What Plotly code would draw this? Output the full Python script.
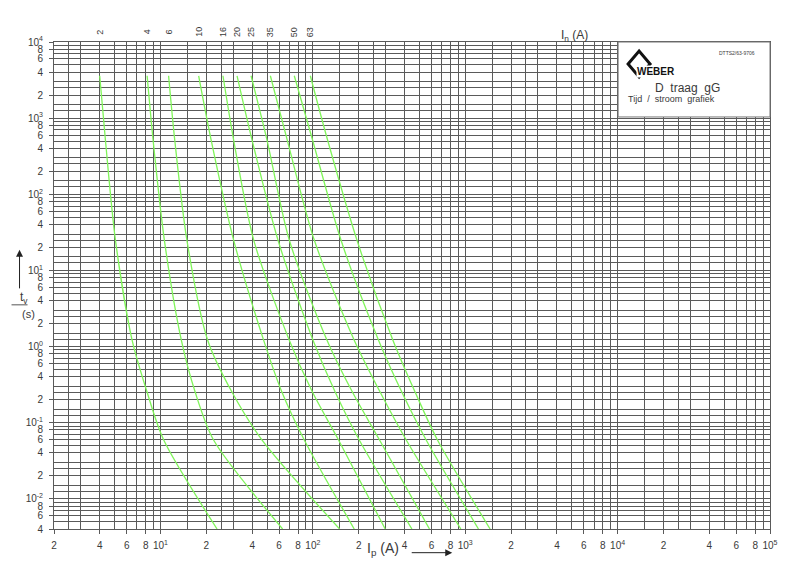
import math
import plotly.graph_objects as go

# ---------------- data ----------------
ratings = ["2", "4", "6", "10", "16", "20", "25", "35", "50", "63"]
t_points = [3600, 515, 25, 1.21, 0.25, 0.059, 0.004]  # seconds

i_2A = [3.99, 4.35, 5.06, 6.51, 8.17, 10.5, 23.5]
i_4A = [8.17, 8.94, 10.6, 13.7, 16.9, 22.3, 63.3]
i_6A = [11.3, 12.4, 14.9, 20.4, 29.5, 46.4, 149.7]
i_10A = [17.8, 21.5, 30.2, 47.5, 62.7, 87.8, 186.8]
i_16A = [25.7, 30.2, 40.9, 70.0, 99.5, 147.4, 298.4]
i_20A = [31.8, 39.9, 59.0, 100.2, 140.3, 201.5, 446.6]
i_25A = [39.3, 50.0, 70.0, 123.8, 182.1, 273.8, 582.5]
i_35A = [52.6, 67.9, 102.1, 186.8, 276.7, 409.8, 935.9]
i_50A = [75.5, 99.5, 152.9, 269.7, 384.0, 554.0, 1221.0]
i_63A = [96.2, 124.9, 194.6, 335.2, 469.4, 657.3, 1456.0]
currents = [i_2A, i_4A, i_6A, i_10A, i_16A, i_20A, i_25A, i_35A, i_50A, i_63A]

# axis tick values / labels
x_major_vals = [2, 4, 6, 8,
                10, 20, 40, 60, 80,
                100, 200, 400, 600, 800,
                1000, 2000, 4000, 6000, 8000,
                10000, 20000, 40000, 60000, 80000,
                100000]
x_major_text = ["2", "4", "6", "8",
                "10<sup>1</sup>", "2", "4", "6", "8",
                "10<sup>2</sup>", "2", "4", "6", "8",
                "10<sup>3</sup>", "2", "4", "6", "8",
                "10<sup>4</sup>", "2", "4", "6", "8",
                "10<sup>5</sup>"]
x_minor_mant = [1.5, 2.5, 3, 5, 7, 9]

y_major_vals = [0.004, 0.006, 0.008,
                0.01, 0.02, 0.04, 0.06, 0.08,
                0.1, 0.2, 0.4, 0.6, 0.8,
                1, 2, 4, 6, 8,
                10, 20, 40, 60, 80,
                100, 200, 400, 600, 800,
                1000, 2000, 4000, 6000, 8000,
                10000]
y_major_text = ["4", "6", "8",
                "10<sup>-2</sup>", "2", "4", "6", "8",
                "10<sup>-1</sup>", "2", "4", "6", "8",
                "10<sup>0</sup>", "2", "4", "6", "8",
                "10<sup>1</sup>", "2", "4", "6", "8",
                "10<sup>2</sup>", "2", "4", "6", "8",
                "10<sup>3</sup>", "2", "4", "6", "8",
                "10<sup>4</sup>"]
y_minor_mant = [1.25, 1.5, 2.5, 3, 5, 7, 9]

# ---------------- figure ----------------
OFF = 8  # page body margin
W, H = 784, 558
L, R, T, B = 45.5, 22, 34, 36.7
PW, PH = W - L - R, H - T - B


def px(xp):
    """page pixel x -> paper"""
    return (xp - OFF - L) / PW


def py(yp):
    """page pixel y -> paper"""
    return (OFF + H - B - yp) / PH


x_minor_vals = [m * 10 ** d for d in range(0, 5) for m in x_minor_mant if 2 < m * 10 ** d < 100000]
y_minor_vals = [m * 10 ** d for d in range(-3, 4) for m in y_minor_mant if 0.004 < m * 10 ** d < 10000]

GREEN = "#80f55a"
GRID = "#5a5a5a"
TXT = "#3a3a3a"
FONT = "Liberation Sans"

fig = go.Figure()
for name, cur in zip(ratings, currents):
    fig.add_trace(go.Scatter(x=cur, y=t_points, mode="lines", name=name + " A",
                             line=dict(color=GREEN, width=1.3, shape="spline", smoothing=0.8),
                             showlegend=False, hoverinfo="skip"))

axis_common = dict(type="log", showgrid=True, gridcolor=GRID, gridwidth=1,
                   zeroline=False, showline=True, linecolor=GRID, linewidth=1, mirror=True,
                   ticks="outside", ticklen=4, tickcolor=GRID,
                   tickfont=dict(family=FONT, size=10, color=TXT))

fig.update_xaxes(range=[0.30103, 5], tickmode="array", tickvals=x_major_vals, ticktext=x_major_text,
                 minor=dict(tickmode="array", tickvals=x_minor_vals, showgrid=True,
                            gridcolor=GRID, gridwidth=1, ticks=""),
                 ticklabelstandoff=3,
                 **axis_common)
fig.update_yaxes(range=[-2.39794, 4], tickmode="array", tickvals=y_major_vals, ticktext=y_major_text,
                 minor=dict(tickmode="array", tickvals=y_minor_vals, showgrid=True,
                            gridcolor=GRID, gridwidth=1, ticks=""),
                 ticklabelstandoff=4,
                 **axis_common)

annotations = []
# rating labels on top (rotated)
for name, cur in zip(ratings, currents):
    annotations.append(dict(x=math.log10(cur[0]), xref="x", y=py(32), yref="paper", text=name,
                            showarrow=False, textangle=-90,
                            font=dict(family=FONT, size=9, color=TXT),
                            xanchor="center", yanchor="middle"))
annotations.append(dict(x=px(590), y=py(26), xref="paper", yref="paper",
                        text="I<sub>n</sub> (A)", showarrow=False,
                        font=dict(family=FONT, size=12, color=TXT)))
annotations.append(dict(x=px(383), y=py(560), xref="paper", yref="paper",
                        text="I<sub>p</sub> (A)", showarrow=False,
                        font=dict(family=FONT, size=14, color=TXT)))
# arrows
annotations.append(dict(x=px(452), y=py(553), xref="paper", yref="paper", ax=-42, ay=0,
                        text="", showarrow=True, arrowhead=2, arrowsize=1.4, arrowwidth=1,
                        arrowcolor="#222"))
annotations.append(dict(x=px(19), y=py(250), xref="paper", yref="paper", ax=0, ay=40,
                        text="", showarrow=True, arrowhead=2, arrowsize=1.4, arrowwidth=1,
                        arrowcolor="#222"))
annotations.append(dict(x=px(17), y=py(298), xref="paper", yref="paper",
                        text="t<sub>v</sub>", showarrow=False,
                        font=dict(family=FONT, size=12, color=TXT)))
annotations.append(dict(x=px(19), y=py(314), xref="paper", yref="paper",
                        text="(s)", showarrow=False,
                        font=dict(family=FONT, size=11, color=TXT)))
# logo box texts
annotations.append(dict(x=px(653), y=py(79), xref="paper", yref="paper", xanchor="left",
                        text="D  traag  gG", showarrow=False,
                        font=dict(family=FONT, size=12, color=TXT)))
annotations.append(dict(x=px(626), y=py(92), xref="paper", yref="paper", xanchor="left",
                        text="Tijd  /  stroom  grafiek", showarrow=False,
                        font=dict(family=FONT, size=9, color=TXT)))
annotations.append(dict(x=px(757), y=py(48), xref="paper", yref="paper", xanchor="right",
                        text="DTTS2/63-9706", showarrow=False,
                        font=dict(family=FONT, size=5, color=TXT)))
annotations.append(dict(x=px(636), y=py(65), xref="paper", yref="paper", xanchor="left",
                        text="<b>WEBER</b>", showarrow=False, bgcolor="white", borderpad=0,
                        font=dict(family=FONT, size=10, color="#111")))

shapes = [
    dict(type="rect", xref="paper", yref="paper", x0=px(618), x1=1.0, y0=py(117), y1=1.0,
         fillcolor="white", line=dict(color="#777", width=1), layer="above"),
    # diamond of logo
    dict(type="path", xref="paper", yref="paper",
         path=f"M {px(628)} {py(64)} L {px(639)} {py(51)} L {px(650)} {py(64)} L {px(639)} {py(77)} Z",
         fillcolor="white", line=dict(color="#111", width=3), layer="above"),
    # fraction line of y title
    dict(type="line", xref="paper", yref="paper", x0=px(11), x1=px(27), y0=py(305), y1=py(305),
         line=dict(color="#555", width=1), layer="above"),
]

fig.update_layout(width=W, height=H, margin=dict(l=L, r=R, t=T, b=B, autoexpand=False),
                  paper_bgcolor="white", plot_bgcolor="white",
                  annotations=annotations, shapes=shapes, showlegend=False)

fig.write_html("out.html")
